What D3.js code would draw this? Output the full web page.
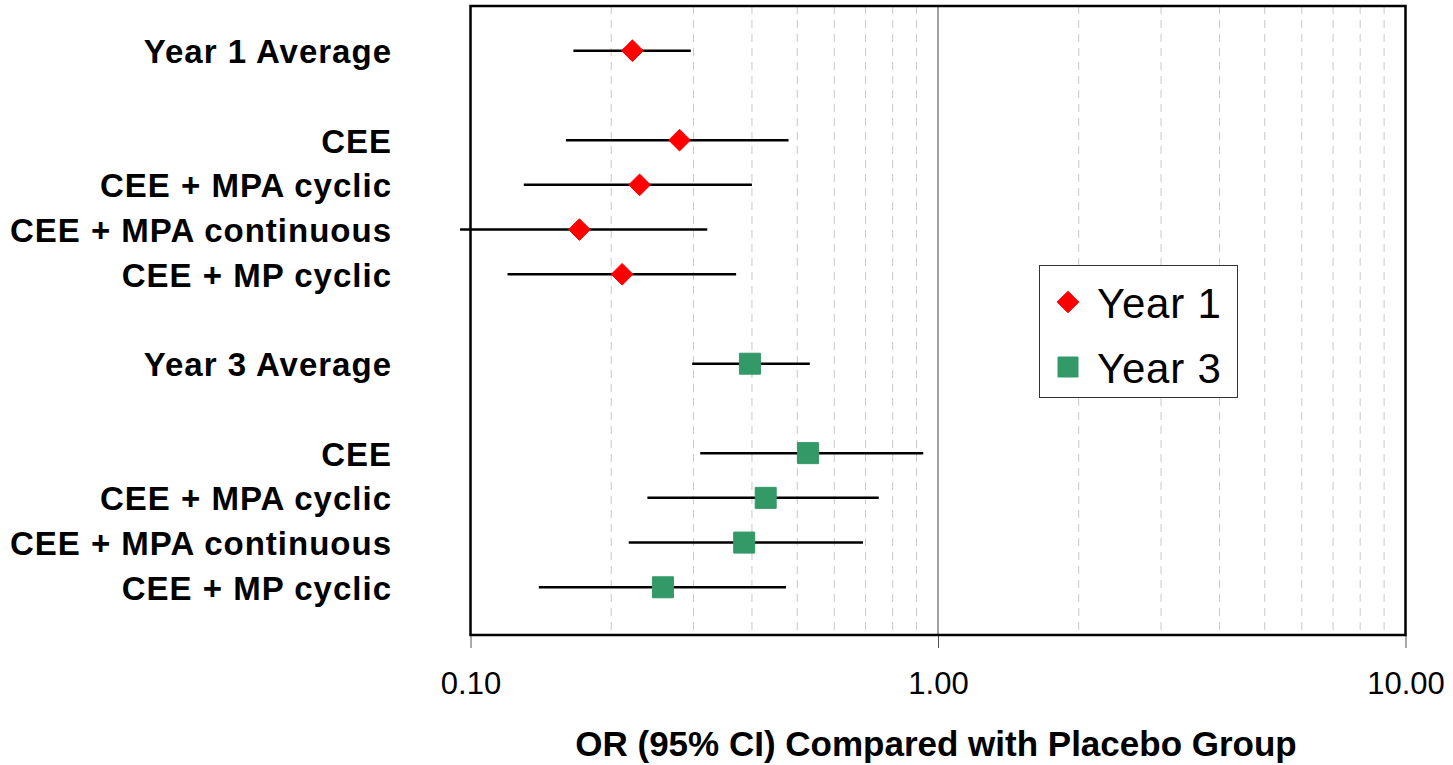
<!DOCTYPE html>
<html>
<head>
<meta charset="utf-8">
<script src="https://cdn.jsdelivr.net/npm/d3@7"></script>
<style>
  body { margin: 0; background: #fff; }
  svg { display: block; font-family: 'Liberation Sans', Arial, sans-serif; }
</style>
</head>
<body>
<div id="forest"></div>
<script>
// categories
const year1Labels = ['Year 1 Average', 'CEE', 'CEE + MPA cyclic', 'CEE + MPA continuous', 'CEE + MP cyclic'];
const year3Labels = ['Year 3 Average', 'CEE', 'CEE + MPA cyclic', 'CEE + MPA continuous', 'CEE + MP cyclic'];

// odds ratios and 95% CI
const year1OR = [0.222, 0.280, 0.230, 0.171, 0.211];
const year1Low = [0.166, 0.160, 0.130, 0.095, 0.120];
const year1High = [0.296, 0.479, 0.400, 0.321, 0.370];

const year3OR = [0.396, 0.527, 0.428, 0.385, 0.258];
const year3Low = [0.298, 0.310, 0.239, 0.218, 0.140];
const year3High = [0.532, 0.930, 0.747, 0.691, 0.473];

const seriesNames = ['Year 1', 'Year 3'];
const xTicks = [0.1, 1, 10];
const xMinor = [0.2, 0.3, 0.4, 0.5, 0.6, 0.7, 0.8, 0.9, 2, 3, 4, 5, 6, 7, 8, 9];
const xTitle = 'OR (95% CI) Compared with Placebo Group';

const W = 1453, H = 765;
const plot = { left: 470.5, right: 1405.5, top: 6, bottom: 635 };
const red = '#ff0000', green = '#339966';

// rows: average, gap, items ... for each year
function buildRows(key, labels, or, lo, hi) {
  return labels.map((l, i) => ({ id: key + i, label: l, or: or[i], lo: lo[i], hi: hi[i], series: key }));
}
const y1 = buildRows('y1-', year1Labels, year1OR, year1Low, year1High);
const y3 = buildRows('y3-', year3Labels, year3OR, year3Low, year3High);
const rows = y1.concat(y3);
const slotOrder = [y1[0].id, 'gapA', ...y1.slice(1).map(d => d.id), 'gapB',
                   y3[0].id, 'gapC', ...y3.slice(1).map(d => d.id)];

const svg = d3.select('#forest')
  .append('svg')
  .attr('width', W)
  .attr('height', H);

const x = d3.scaleLog()
  .domain([0.1, 10])
  .range([plot.left, plot.right]);

const y = d3.scalePoint()
  .domain(slotOrder)
  .range([plot.top, plot.bottom - 3])
  .padding(1);

//minor grid lines
svg.append('g')
  .selectAll('line')
  .data(xMinor)
  .join('line')
  .attr('x1', d => x(d))
  .attr('x2', d => x(d))
  .attr('y1', plot.top)
  .attr('y2', plot.bottom)
  .attr('stroke', '#c8c8c8')
  .attr('stroke-width', 1)
  .attr('stroke-dasharray', '8,6');

//reference line at 1
svg.append('line')
  .attr('x1', x(1)).attr('x2', x(1))
  .attr('y1', plot.top).attr('y2', plot.bottom)
  .attr('stroke', '#444')
  .attr('stroke-width', 1);

//x-axis
const xAxis = svg.append('g')
  .attr('transform', `translate(0, ${plot.bottom})`)
  .call(d3.axisBottom(x)
    .tickValues(xTicks)
    .tickFormat(d3.format('.2f'))
    .tickSize(13)
    .tickPadding(24)
    .tickSizeOuter(0));
xAxis.select('.domain').remove();
xAxis.selectAll('.tick line').attr('stroke', '#555');
xAxis.selectAll('.tick text')
  .attr('fill', '#000')
  .style('font-size', '31px')
  .style('font-family', "'Liberation Sans', Arial, sans-serif");

//frame
svg.append('rect')
  .attr('x', plot.left)
  .attr('y', plot.top)
  .attr('width', plot.right - plot.left)
  .attr('height', plot.bottom - plot.top)
  .attr('fill', 'none')
  .attr('stroke', '#000')
  .attr('stroke-width', 2.5);

//row labels
svg.append('g')
  .selectAll('text')
  .data(rows)
  .join('text')
  .attr('x', 392)
  .attr('y', d => y(d.id) + 1)
  .attr('dy', '0.35em')
  .attr('text-anchor', 'end')
  .style('font-size', '33px')
  .style('font-weight', 'bold')
  .style('letter-spacing', '1px')
  .text(d => d.label);

//CI whiskers
svg.append('g')
  .selectAll('line')
  .data(rows)
  .join('line')
  .attr('x1', d => x(d.lo))
  .attr('x2', d => x(d.hi))
  .attr('y1', d => y(d.id))
  .attr('y2', d => y(d.id))
  .attr('stroke', '#000')
  .attr('stroke-width', 2.5);

//markers
const diamond = d3.symbol().type(d3.symbolDiamond2).size(300);
const square = d3.symbol().type(d3.symbolSquare).size(441);

svg.append('g')
  .selectAll('path')
  .data(rows)
  .join('path')
  .attr('transform', d => `translate(${x(d.or)}, ${y(d.id)})`)
  .attr('d', d => d.series === 'y1-' ? diamond() : square())
  .attr('fill', d => d.series === 'y1-' ? red : green)
  .attr('stroke', d => d.series === 'y1-' ? red : green)
  .attr('stroke-width', 1)
  .attr('stroke-linejoin', 'round');

//x title
svg.append('text')
  .attr('x', x(1) - 2)
  .attr('y', 756)
  .attr('text-anchor', 'middle')
  .style('font-size', '35px')
  .style('font-weight', 'bold')
  .text(xTitle);

//legend
const legend = svg.append('g');
legend.append('rect')
  .attr('x', 1039.5).attr('y', 265.5)
  .attr('width', 198).attr('height', 132)
  .attr('fill', '#fff')
  .attr('stroke', '#333')
  .attr('stroke-width', 1);

const legendItems = legend.selectAll('g.item')
  .data(seriesNames)
  .join('g')
  .attr('class', 'item')
  .attr('transform', (d, i) => `translate(1068, ${302 + i * 65})`);
legendItems.append('path')
  .attr('d', (d, i) => i === 0 ? diamond() : d3.symbol().type(d3.symbolSquare).size(400)())
  .attr('fill', (d, i) => i === 0 ? red : green)
  .attr('stroke', (d, i) => i === 0 ? red : green)
  .attr('stroke-linejoin', 'round');
legendItems.append('text')
  .attr('x', 29)
  .attr('y', 16)
  .style('font-size', '42px')
  .style('letter-spacing', '0.8px')
  .text(d => d);
</script>
</body>
</html>
